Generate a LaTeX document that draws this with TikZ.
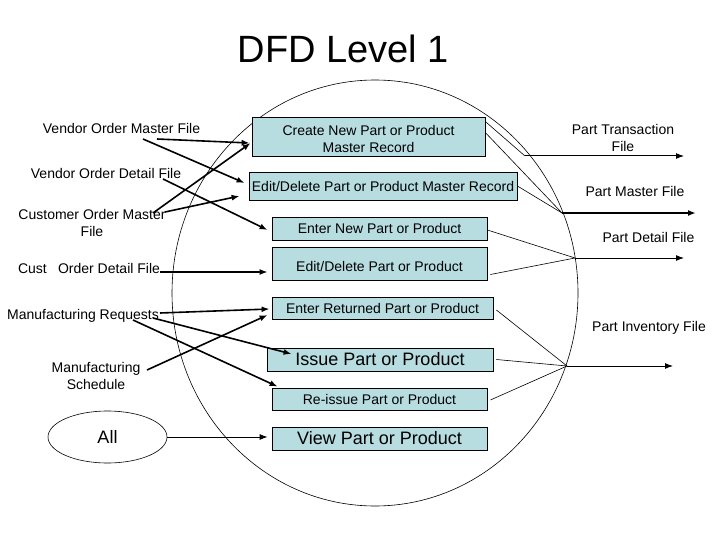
\documentclass[tikz,border=0pt]{standalone}
\usepackage{fontspec}
\setmainfont{Liberation Sans}
\usetikzlibrary{arrows.meta,shapes.geometric,calc}
\definecolor{boxblue}{RGB}{183,221,225}
\begin{document}
\begin{tikzpicture}[x=1pt,y=-1pt,
  lbl/.style={inner sep=0pt,align=center,font=\fontsize{14}{17}\selectfont},
  proc/.style={draw=black,line width=0.8pt,fill=boxblue,inner sep=0pt,align=center,font=\fontsize{14}{17}\selectfont},
  big/.style={font=\fontsize{18}{20}\selectfont},
  inflow/.style={line width=1.6pt,-{Latex[length=8pt,width=6pt]}},
  thinflow/.style={line width=0.8pt,-{Latex[length=8pt,width=6pt]}},
  link/.style={line width=0.6pt},
  outflow/.style={line width=1pt,-{Latex[length=8pt,width=6pt]}}
]
\useasboundingbox (0,0) rectangle (720,540);

% title
\node[anchor=base,inner sep=0pt,font=\fontsize{38}{40}\selectfont] (title) at (343.5,63) {DFD Level 1};

% system boundary
\node[ellipse,draw,line width=0.6pt,minimum width=406pt,minimum height=426pt,inner sep=0pt] (sys) at (375,293) {};

% processes
\node[proc,minimum width=233pt,minimum height=39pt] (b1) at (368.5,136.5) {\rule{0pt}{16pt}Create New Part or Product\\Master Record};
\node[proc,minimum width=268pt,minimum height=28pt] (b2) at (383,186) {Edit/Delete Part or Product Master Record};
\node[proc,minimum width=215pt,minimum height=23pt] (b3) at (379.5,228.5) {Enter New Part or Product};
\node[proc,minimum width=215pt,minimum height=33pt] (b4) at (379.5,263.5) {\rule{0pt}{16pt}Edit/Delete Part or Product};
\node[proc,minimum width=221pt,minimum height=22pt] (b5) at (382.5,308) {Enter Returned Part or Product};
\node[proc,big,minimum width=226pt,minimum height=23pt] (b6) at (380,359.5) {Issue Part or Product};
\node[proc,minimum width=215pt,minimum height=22pt] (b7) at (379.5,399) {Re-issue Part or Product};
\node[proc,big,minimum width=215pt,minimum height=23pt] (b8) at (379.5,438.5) {View Part or Product};

% left labels
\node[lbl] (vomf) at (121.5,128) {Vendor Order Master File};
\node[lbl] (vodf) at (106,173) {Vendor Order Detail File};
\node[lbl] (comf) at (92,223) {Customer Order Master\\File};
\node[lbl] (codf) at (89,268) {Cust\hspace{0.8em}Order Detail File};
\node[lbl] (mreq) at (83,316) {Manufacturing Requests};
\node[lbl] (msch) at (96,375.5) {Manufacturing\\Schedule};
\node[ellipse,draw,line width=0.6pt,minimum width=119pt,minimum height=52pt,inner sep=0pt,font=\fontsize{18}{20}\selectfont] (all) at (107.5,437) {All};

% right labels
\node[lbl] (ptf) at (623,137.5) {Part Transaction\\File};
\node[lbl] (pmf) at (635,191) {Part Master File};
\node[lbl] (pdf) at (648.5,237) {Part Detail File};
\node[lbl] (pif) at (649,328) {Part Inventory File};

% connector free ends
\coordinate (s1) at (157,139);
\coordinate (s2) at (143,139);
\coordinate (s3) at (163,179);
\coordinate (s4) at (153,213);
\coordinate (s5) at (165,212);
\coordinate (s6) at (160,272);
\coordinate (s7) at (160,313);
\coordinate (s8) at (153,318);
\coordinate (s9) at (133,320);
\coordinate (s10) at (147,370);

\coordinate (jT) at (525,156);
\coordinate (jM) at (562,213);
\coordinate (jD) at (575,258);
\coordinate (jI) at (567,366);
\coordinate (eT) at (684,156);
\coordinate (eM) at (696,213);
\coordinate (eD) at (684,258);
\coordinate (eI) at (673,366);

% inflows
\draw[inflow] (s1) -- ([xshift=-2pt,yshift=-6.5pt]b1.west);
\draw[inflow] (s2) -- ([xshift=-4pt,yshift=3pt]b2.west);
\draw[inflow] (s3) -- ([xshift=-4pt,yshift=-1.5pt]b3.west);
\draw[inflow] (s4) -- ([xshift=-1pt,yshift=-6.5pt]b1.west);
\draw[inflow] (s5) -- ([xshift=-9pt,yshift=-10pt]b2.west);
\draw[inflow] (s6) -- ([xshift=-4pt,yshift=-8.5pt]b4.west);
\draw[inflow] (s7) -- ([xshift=-2pt,yshift=-1pt]b5.west);
\draw[inflow] (s8) -- ([xshift=25pt,yshift=5.5pt]b6.west);
\draw[inflow] (s9) -- ([xshift=6pt,yshift=1pt]b7.north west);
\draw[inflow] (s10) -- ([xshift=-4pt,yshift=-7pt]b5.west);
\draw[thinflow] (all.east) -- ([xshift=-4pt]b8.west |- all.east);

% links to stores
\draw[link] ([yshift=-5pt]b1.north east) -- (jT);
\draw[link] ([yshift=-16pt]b1.north east) -- (jM);
\draw[link] (b2.east) -- (jM);
\draw[link] ([yshift=-1.5pt]b3.east) -- (jD);
\draw[link] ([xshift=3pt,yshift=-11pt]b4.east) -- (jD);
\draw[link] ([xshift=3pt,yshift=-2pt]b5.east) -- (jI);
\draw[link] ([xshift=3pt]b6.east) -- (jI);
\draw[link] ([xshift=3pt,yshift=-1pt]b7.east) -- (jI);

% outflows
\draw[outflow] (jT) -- (eT);
\draw[outflow,line width=2pt] (jM) -- (eM);
\draw[outflow] (jD) -- (eD);
\draw[outflow] (jI) -- (eI);
\end{tikzpicture}
\end{document}
